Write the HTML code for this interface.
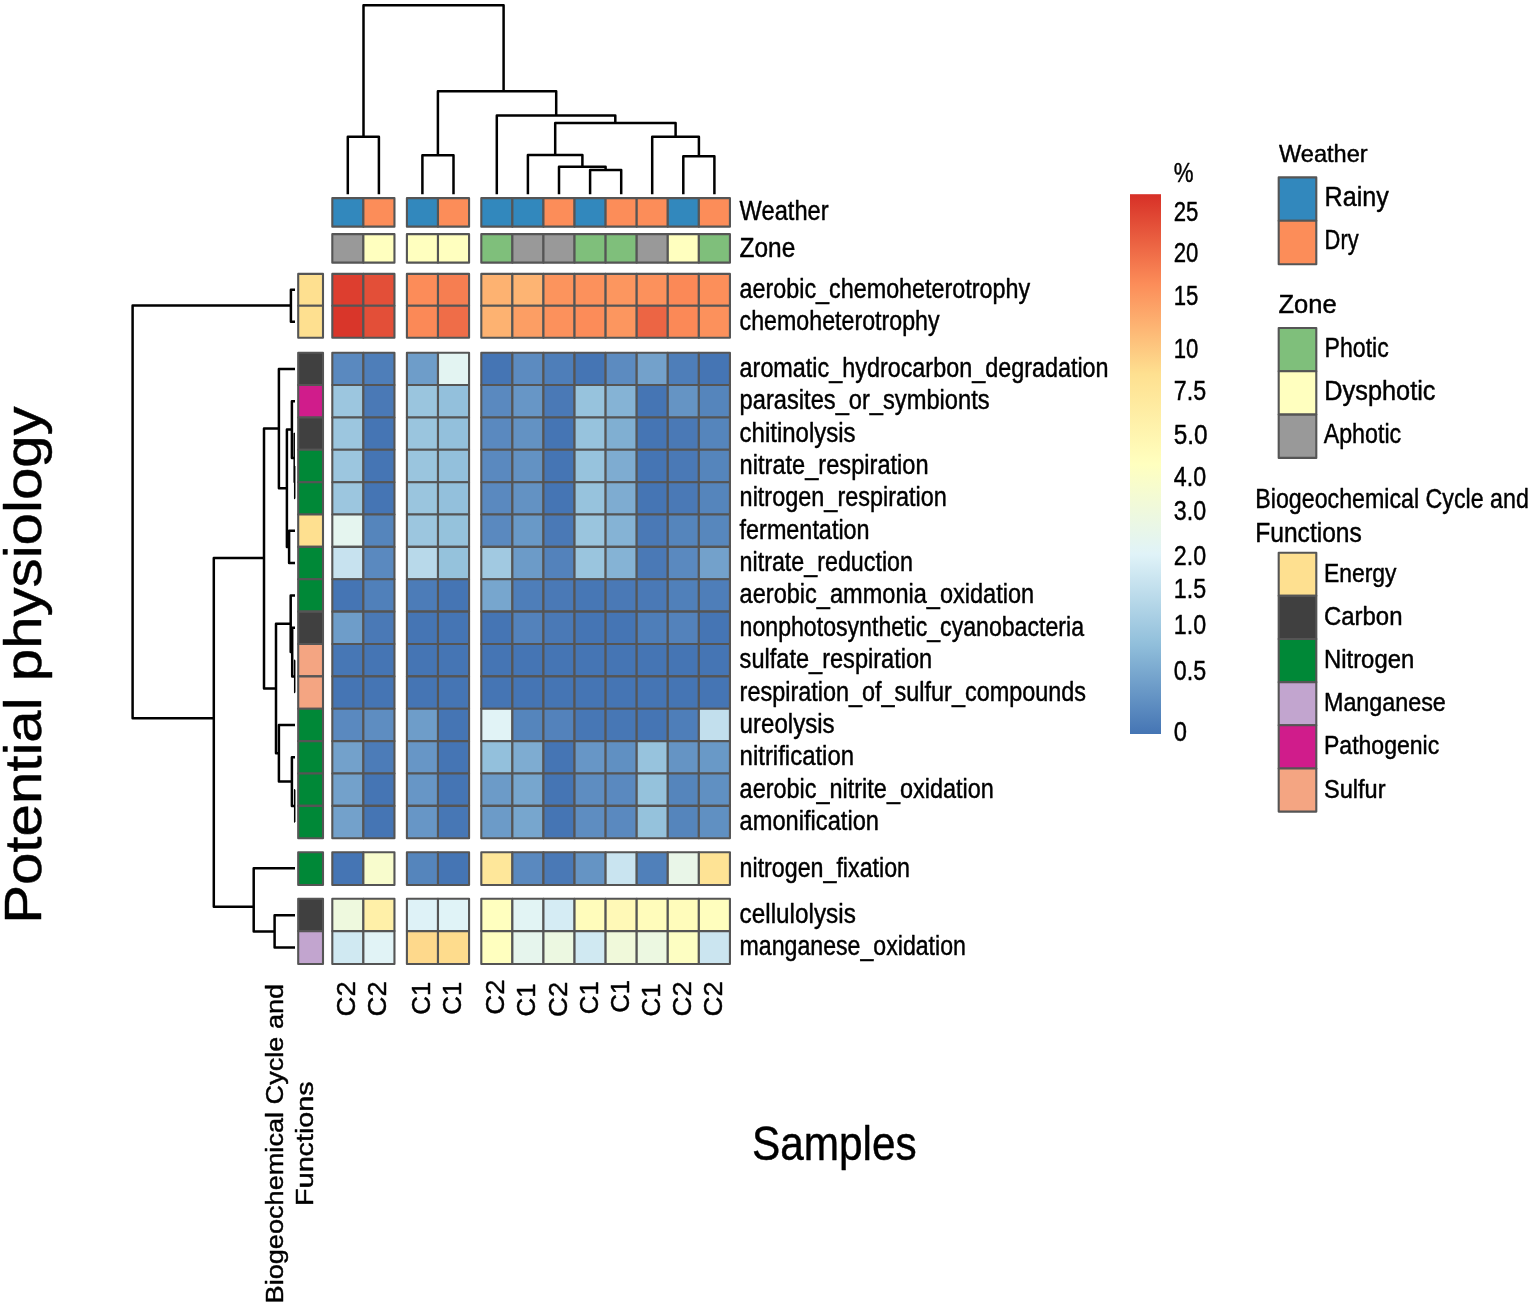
<!DOCTYPE html>
<html lang="en"><head><meta charset="utf-8"><title>Potential physiology heatmap</title>
<style>html,body{margin:0;padding:0;background:#fff}svg{display:block}</style></head>
<body>
<svg width="1535" height="1307" viewBox="0 0 1535 1307" font-family="'Liberation Sans',Arial,sans-serif">
<rect width="1535" height="1307" fill="#fff"/>
<defs><linearGradient id="cb" x1="0" y1="1" x2="0" y2="0"><stop offset="0.0000" stop-color="#4575b4"/><stop offset="0.1667" stop-color="#91bfdb"/><stop offset="0.3333" stop-color="#e0f3f8"/><stop offset="0.5000" stop-color="#ffffbf"/><stop offset="0.6667" stop-color="#fee090"/><stop offset="0.8333" stop-color="#fc8d59"/><stop offset="1.0000" stop-color="#d73027"/></linearGradient></defs>
<g stroke="#555" stroke-width="2.1" stroke-linejoin="round">
<rect x="332.30" y="273.90" width="31.08" height="31.90" fill="#dd3e2f"/>
<rect x="363.38" y="273.90" width="31.08" height="31.90" fill="#e34f38"/>
<rect x="406.90" y="273.90" width="31.08" height="31.90" fill="#fc8c59"/>
<rect x="437.98" y="273.90" width="31.08" height="31.90" fill="#f67e51"/>
<rect x="481.30" y="273.90" width="31.08" height="31.90" fill="#fdb271"/>
<rect x="512.38" y="273.90" width="31.08" height="31.90" fill="#fdb473"/>
<rect x="543.46" y="273.90" width="31.08" height="31.90" fill="#fc945d"/>
<rect x="574.54" y="273.90" width="31.08" height="31.90" fill="#fc915c"/>
<rect x="605.62" y="273.90" width="31.08" height="31.90" fill="#fc965f"/>
<rect x="636.70" y="273.90" width="31.08" height="31.90" fill="#fc915c"/>
<rect x="667.78" y="273.90" width="31.08" height="31.90" fill="#fb8957"/>
<rect x="698.86" y="273.90" width="31.08" height="31.90" fill="#fc8f5a"/>
<rect x="332.30" y="305.80" width="31.08" height="31.90" fill="#d9362a"/>
<rect x="363.38" y="305.80" width="31.08" height="31.90" fill="#e34f38"/>
<rect x="406.90" y="305.80" width="31.08" height="31.90" fill="#fb8957"/>
<rect x="437.98" y="305.80" width="31.08" height="31.90" fill="#ef6d48"/>
<rect x="481.30" y="305.80" width="31.08" height="31.90" fill="#fdb271"/>
<rect x="512.38" y="305.80" width="31.08" height="31.90" fill="#fc9e64"/>
<rect x="543.46" y="305.80" width="31.08" height="31.90" fill="#fc915c"/>
<rect x="574.54" y="305.80" width="31.08" height="31.90" fill="#fc8c59"/>
<rect x="605.62" y="305.80" width="31.08" height="31.90" fill="#fc965f"/>
<rect x="636.70" y="305.80" width="31.08" height="31.90" fill="#ec6544"/>
<rect x="667.78" y="305.80" width="31.08" height="31.90" fill="#fb8957"/>
<rect x="698.86" y="305.80" width="31.08" height="31.90" fill="#fc915c"/>
<rect x="332.30" y="352.70" width="31.08" height="32.37" fill="#5a89bf"/>
<rect x="363.38" y="352.70" width="31.08" height="32.37" fill="#4e7eb9"/>
<rect x="406.90" y="352.70" width="31.08" height="32.37" fill="#6e9dc9"/>
<rect x="437.98" y="352.70" width="31.08" height="32.37" fill="#e3f4f2"/>
<rect x="481.30" y="352.70" width="31.08" height="32.37" fill="#4575b4"/>
<rect x="512.38" y="352.70" width="31.08" height="32.37" fill="#5c8bc0"/>
<rect x="543.46" y="352.70" width="31.08" height="32.37" fill="#4e7eb9"/>
<rect x="574.54" y="352.70" width="31.08" height="32.37" fill="#4575b4"/>
<rect x="605.62" y="352.70" width="31.08" height="32.37" fill="#5c8bc0"/>
<rect x="636.70" y="352.70" width="31.08" height="32.37" fill="#73a1cb"/>
<rect x="667.78" y="352.70" width="31.08" height="32.37" fill="#4e7eb9"/>
<rect x="698.86" y="352.70" width="31.08" height="32.37" fill="#4575b4"/>
<rect x="332.30" y="385.07" width="31.08" height="32.37" fill="#9cc6df"/>
<rect x="363.38" y="385.07" width="31.08" height="32.37" fill="#4a79b6"/>
<rect x="406.90" y="385.07" width="31.08" height="32.37" fill="#9ac5de"/>
<rect x="437.98" y="385.07" width="31.08" height="32.37" fill="#93c0dc"/>
<rect x="481.30" y="385.07" width="31.08" height="32.37" fill="#5a89bf"/>
<rect x="512.38" y="385.07" width="31.08" height="32.37" fill="#6796c6"/>
<rect x="543.46" y="385.07" width="31.08" height="32.37" fill="#4a79b6"/>
<rect x="574.54" y="385.07" width="31.08" height="32.37" fill="#97c3dd"/>
<rect x="605.62" y="385.07" width="31.08" height="32.37" fill="#85b3d5"/>
<rect x="636.70" y="385.07" width="31.08" height="32.37" fill="#4575b4"/>
<rect x="667.78" y="385.07" width="31.08" height="32.37" fill="#6594c4"/>
<rect x="698.86" y="385.07" width="31.08" height="32.37" fill="#5585bc"/>
<rect x="332.30" y="417.44" width="31.08" height="32.37" fill="#9cc6df"/>
<rect x="363.38" y="417.44" width="31.08" height="32.37" fill="#4575b4"/>
<rect x="406.90" y="417.44" width="31.08" height="32.37" fill="#9ac5de"/>
<rect x="437.98" y="417.44" width="31.08" height="32.37" fill="#93c0dc"/>
<rect x="481.30" y="417.44" width="31.08" height="32.37" fill="#5a89bf"/>
<rect x="512.38" y="417.44" width="31.08" height="32.37" fill="#6392c3"/>
<rect x="543.46" y="417.44" width="31.08" height="32.37" fill="#4575b4"/>
<rect x="574.54" y="417.44" width="31.08" height="32.37" fill="#97c3dd"/>
<rect x="605.62" y="417.44" width="31.08" height="32.37" fill="#80afd2"/>
<rect x="636.70" y="417.44" width="31.08" height="32.37" fill="#4575b4"/>
<rect x="667.78" y="417.44" width="31.08" height="32.37" fill="#4a79b6"/>
<rect x="698.86" y="417.44" width="31.08" height="32.37" fill="#5585bc"/>
<rect x="332.30" y="449.81" width="31.08" height="32.37" fill="#9cc6df"/>
<rect x="363.38" y="449.81" width="31.08" height="32.37" fill="#4575b4"/>
<rect x="406.90" y="449.81" width="31.08" height="32.37" fill="#9ac5de"/>
<rect x="437.98" y="449.81" width="31.08" height="32.37" fill="#93c0dc"/>
<rect x="481.30" y="449.81" width="31.08" height="32.37" fill="#5a89bf"/>
<rect x="512.38" y="449.81" width="31.08" height="32.37" fill="#6392c3"/>
<rect x="543.46" y="449.81" width="31.08" height="32.37" fill="#4575b4"/>
<rect x="574.54" y="449.81" width="31.08" height="32.37" fill="#97c3dd"/>
<rect x="605.62" y="449.81" width="31.08" height="32.37" fill="#7eacd1"/>
<rect x="636.70" y="449.81" width="31.08" height="32.37" fill="#4575b4"/>
<rect x="667.78" y="449.81" width="31.08" height="32.37" fill="#4a79b6"/>
<rect x="698.86" y="449.81" width="31.08" height="32.37" fill="#5585bc"/>
<rect x="332.30" y="482.18" width="31.08" height="32.37" fill="#9cc6df"/>
<rect x="363.38" y="482.18" width="31.08" height="32.37" fill="#4575b4"/>
<rect x="406.90" y="482.18" width="31.08" height="32.37" fill="#9ac5de"/>
<rect x="437.98" y="482.18" width="31.08" height="32.37" fill="#93c0dc"/>
<rect x="481.30" y="482.18" width="31.08" height="32.37" fill="#5a89bf"/>
<rect x="512.38" y="482.18" width="31.08" height="32.37" fill="#6392c3"/>
<rect x="543.46" y="482.18" width="31.08" height="32.37" fill="#4575b4"/>
<rect x="574.54" y="482.18" width="31.08" height="32.37" fill="#97c3dd"/>
<rect x="605.62" y="482.18" width="31.08" height="32.37" fill="#7eacd1"/>
<rect x="636.70" y="482.18" width="31.08" height="32.37" fill="#4575b4"/>
<rect x="667.78" y="482.18" width="31.08" height="32.37" fill="#4a79b6"/>
<rect x="698.86" y="482.18" width="31.08" height="32.37" fill="#5585bc"/>
<rect x="332.30" y="514.55" width="31.08" height="32.37" fill="#e5f5ef"/>
<rect x="363.38" y="514.55" width="31.08" height="32.37" fill="#5585bc"/>
<rect x="406.90" y="514.55" width="31.08" height="32.37" fill="#9cc6df"/>
<rect x="437.98" y="514.55" width="31.08" height="32.37" fill="#95c2dc"/>
<rect x="481.30" y="514.55" width="31.08" height="32.37" fill="#5a89bf"/>
<rect x="512.38" y="514.55" width="31.08" height="32.37" fill="#6999c7"/>
<rect x="543.46" y="514.55" width="31.08" height="32.37" fill="#4a79b6"/>
<rect x="574.54" y="514.55" width="31.08" height="32.37" fill="#9ac5de"/>
<rect x="605.62" y="514.55" width="31.08" height="32.37" fill="#85b3d5"/>
<rect x="636.70" y="514.55" width="31.08" height="32.37" fill="#4a79b6"/>
<rect x="667.78" y="514.55" width="31.08" height="32.37" fill="#5585bc"/>
<rect x="698.86" y="514.55" width="31.08" height="32.37" fill="#5787bd"/>
<rect x="332.30" y="546.92" width="31.08" height="32.37" fill="#c7e2ef"/>
<rect x="363.38" y="546.92" width="31.08" height="32.37" fill="#5a89bf"/>
<rect x="406.90" y="546.92" width="31.08" height="32.37" fill="#b8d9ea"/>
<rect x="437.98" y="546.92" width="31.08" height="32.37" fill="#95c2dc"/>
<rect x="481.30" y="546.92" width="31.08" height="32.37" fill="#a1c9e1"/>
<rect x="512.38" y="546.92" width="31.08" height="32.37" fill="#6c9bc8"/>
<rect x="543.46" y="546.92" width="31.08" height="32.37" fill="#5382bb"/>
<rect x="574.54" y="546.92" width="31.08" height="32.37" fill="#9ac5de"/>
<rect x="605.62" y="546.92" width="31.08" height="32.37" fill="#85b3d5"/>
<rect x="636.70" y="546.92" width="31.08" height="32.37" fill="#4a79b6"/>
<rect x="667.78" y="546.92" width="31.08" height="32.37" fill="#5a89bf"/>
<rect x="698.86" y="546.92" width="31.08" height="32.37" fill="#73a1cb"/>
<rect x="332.30" y="579.29" width="31.08" height="32.37" fill="#4575b4"/>
<rect x="363.38" y="579.29" width="31.08" height="32.37" fill="#5080ba"/>
<rect x="406.90" y="579.29" width="31.08" height="32.37" fill="#4c7cb8"/>
<rect x="437.98" y="579.29" width="31.08" height="32.37" fill="#4575b4"/>
<rect x="481.30" y="579.29" width="31.08" height="32.37" fill="#77a6ce"/>
<rect x="512.38" y="579.29" width="31.08" height="32.37" fill="#4e7eb9"/>
<rect x="543.46" y="579.29" width="31.08" height="32.37" fill="#4a79b6"/>
<rect x="574.54" y="579.29" width="31.08" height="32.37" fill="#4777b5"/>
<rect x="605.62" y="579.29" width="31.08" height="32.37" fill="#4a79b6"/>
<rect x="636.70" y="579.29" width="31.08" height="32.37" fill="#4a79b6"/>
<rect x="667.78" y="579.29" width="31.08" height="32.37" fill="#5080ba"/>
<rect x="698.86" y="579.29" width="31.08" height="32.37" fill="#4e7eb9"/>
<rect x="332.30" y="611.66" width="31.08" height="32.37" fill="#6e9dc9"/>
<rect x="363.38" y="611.66" width="31.08" height="32.37" fill="#4a79b6"/>
<rect x="406.90" y="611.66" width="31.08" height="32.37" fill="#4575b4"/>
<rect x="437.98" y="611.66" width="31.08" height="32.37" fill="#4575b4"/>
<rect x="481.30" y="611.66" width="31.08" height="32.37" fill="#4575b4"/>
<rect x="512.38" y="611.66" width="31.08" height="32.37" fill="#5382bb"/>
<rect x="543.46" y="611.66" width="31.08" height="32.37" fill="#4a79b6"/>
<rect x="574.54" y="611.66" width="31.08" height="32.37" fill="#4575b4"/>
<rect x="605.62" y="611.66" width="31.08" height="32.37" fill="#4575b4"/>
<rect x="636.70" y="611.66" width="31.08" height="32.37" fill="#4e7eb9"/>
<rect x="667.78" y="611.66" width="31.08" height="32.37" fill="#5382bb"/>
<rect x="698.86" y="611.66" width="31.08" height="32.37" fill="#4575b4"/>
<rect x="332.30" y="644.03" width="31.08" height="32.37" fill="#4777b5"/>
<rect x="363.38" y="644.03" width="31.08" height="32.37" fill="#4575b4"/>
<rect x="406.90" y="644.03" width="31.08" height="32.37" fill="#4575b4"/>
<rect x="437.98" y="644.03" width="31.08" height="32.37" fill="#4575b4"/>
<rect x="481.30" y="644.03" width="31.08" height="32.37" fill="#4575b4"/>
<rect x="512.38" y="644.03" width="31.08" height="32.37" fill="#4575b4"/>
<rect x="543.46" y="644.03" width="31.08" height="32.37" fill="#4575b4"/>
<rect x="574.54" y="644.03" width="31.08" height="32.37" fill="#4575b4"/>
<rect x="605.62" y="644.03" width="31.08" height="32.37" fill="#4575b4"/>
<rect x="636.70" y="644.03" width="31.08" height="32.37" fill="#4575b4"/>
<rect x="667.78" y="644.03" width="31.08" height="32.37" fill="#4575b4"/>
<rect x="698.86" y="644.03" width="31.08" height="32.37" fill="#4575b4"/>
<rect x="332.30" y="676.40" width="31.08" height="32.37" fill="#4575b4"/>
<rect x="363.38" y="676.40" width="31.08" height="32.37" fill="#4575b4"/>
<rect x="406.90" y="676.40" width="31.08" height="32.37" fill="#4575b4"/>
<rect x="437.98" y="676.40" width="31.08" height="32.37" fill="#4575b4"/>
<rect x="481.30" y="676.40" width="31.08" height="32.37" fill="#4575b4"/>
<rect x="512.38" y="676.40" width="31.08" height="32.37" fill="#4575b4"/>
<rect x="543.46" y="676.40" width="31.08" height="32.37" fill="#4575b4"/>
<rect x="574.54" y="676.40" width="31.08" height="32.37" fill="#4575b4"/>
<rect x="605.62" y="676.40" width="31.08" height="32.37" fill="#4575b4"/>
<rect x="636.70" y="676.40" width="31.08" height="32.37" fill="#4575b4"/>
<rect x="667.78" y="676.40" width="31.08" height="32.37" fill="#4575b4"/>
<rect x="698.86" y="676.40" width="31.08" height="32.37" fill="#4575b4"/>
<rect x="332.30" y="708.77" width="31.08" height="32.37" fill="#5a89bf"/>
<rect x="363.38" y="708.77" width="31.08" height="32.37" fill="#5e8dc1"/>
<rect x="406.90" y="708.77" width="31.08" height="32.37" fill="#6e9dc9"/>
<rect x="437.98" y="708.77" width="31.08" height="32.37" fill="#4575b4"/>
<rect x="481.30" y="708.77" width="31.08" height="32.37" fill="#e1f3f6"/>
<rect x="512.38" y="708.77" width="31.08" height="32.37" fill="#5585bc"/>
<rect x="543.46" y="708.77" width="31.08" height="32.37" fill="#5382bb"/>
<rect x="574.54" y="708.77" width="31.08" height="32.37" fill="#4777b5"/>
<rect x="605.62" y="708.77" width="31.08" height="32.37" fill="#4777b5"/>
<rect x="636.70" y="708.77" width="31.08" height="32.37" fill="#4575b4"/>
<rect x="667.78" y="708.77" width="31.08" height="32.37" fill="#4e7eb9"/>
<rect x="698.86" y="708.77" width="31.08" height="32.37" fill="#c2dfed"/>
<rect x="332.30" y="741.14" width="31.08" height="32.37" fill="#73a1cb"/>
<rect x="363.38" y="741.14" width="31.08" height="32.37" fill="#4c7cb8"/>
<rect x="406.90" y="741.14" width="31.08" height="32.37" fill="#6796c6"/>
<rect x="437.98" y="741.14" width="31.08" height="32.37" fill="#4575b4"/>
<rect x="481.30" y="741.14" width="31.08" height="32.37" fill="#93c0dc"/>
<rect x="512.38" y="741.14" width="31.08" height="32.37" fill="#7eacd1"/>
<rect x="543.46" y="741.14" width="31.08" height="32.37" fill="#4575b4"/>
<rect x="574.54" y="741.14" width="31.08" height="32.37" fill="#6796c6"/>
<rect x="605.62" y="741.14" width="31.08" height="32.37" fill="#6090c2"/>
<rect x="636.70" y="741.14" width="31.08" height="32.37" fill="#97c3dd"/>
<rect x="667.78" y="741.14" width="31.08" height="32.37" fill="#6594c4"/>
<rect x="698.86" y="741.14" width="31.08" height="32.37" fill="#6999c7"/>
<rect x="332.30" y="773.51" width="31.08" height="32.37" fill="#73a1cb"/>
<rect x="363.38" y="773.51" width="31.08" height="32.37" fill="#4575b4"/>
<rect x="406.90" y="773.51" width="31.08" height="32.37" fill="#6796c6"/>
<rect x="437.98" y="773.51" width="31.08" height="32.37" fill="#4575b4"/>
<rect x="481.30" y="773.51" width="31.08" height="32.37" fill="#6c9bc8"/>
<rect x="512.38" y="773.51" width="31.08" height="32.37" fill="#77a6ce"/>
<rect x="543.46" y="773.51" width="31.08" height="32.37" fill="#4575b4"/>
<rect x="574.54" y="773.51" width="31.08" height="32.37" fill="#5e8dc1"/>
<rect x="605.62" y="773.51" width="31.08" height="32.37" fill="#5a89bf"/>
<rect x="636.70" y="773.51" width="31.08" height="32.37" fill="#95c2dc"/>
<rect x="667.78" y="773.51" width="31.08" height="32.37" fill="#5585bc"/>
<rect x="698.86" y="773.51" width="31.08" height="32.37" fill="#6090c2"/>
<rect x="332.30" y="805.88" width="31.08" height="32.37" fill="#73a1cb"/>
<rect x="363.38" y="805.88" width="31.08" height="32.37" fill="#4575b4"/>
<rect x="406.90" y="805.88" width="31.08" height="32.37" fill="#6796c6"/>
<rect x="437.98" y="805.88" width="31.08" height="32.37" fill="#4777b5"/>
<rect x="481.30" y="805.88" width="31.08" height="32.37" fill="#6c9bc8"/>
<rect x="512.38" y="805.88" width="31.08" height="32.37" fill="#77a6ce"/>
<rect x="543.46" y="805.88" width="31.08" height="32.37" fill="#4575b4"/>
<rect x="574.54" y="805.88" width="31.08" height="32.37" fill="#5e8dc1"/>
<rect x="605.62" y="805.88" width="31.08" height="32.37" fill="#5a89bf"/>
<rect x="636.70" y="805.88" width="31.08" height="32.37" fill="#95c2dc"/>
<rect x="667.78" y="805.88" width="31.08" height="32.37" fill="#5585bc"/>
<rect x="698.86" y="805.88" width="31.08" height="32.37" fill="#6090c2"/>
<rect x="332.30" y="852.20" width="31.08" height="32.85" fill="#4575b4"/>
<rect x="363.38" y="852.20" width="31.08" height="32.85" fill="#f8fccd"/>
<rect x="406.90" y="852.20" width="31.08" height="32.85" fill="#5585bc"/>
<rect x="437.98" y="852.20" width="31.08" height="32.85" fill="#4575b4"/>
<rect x="481.30" y="852.20" width="31.08" height="32.85" fill="#fee79a"/>
<rect x="512.38" y="852.20" width="31.08" height="32.85" fill="#5a89bf"/>
<rect x="543.46" y="852.20" width="31.08" height="32.85" fill="#4a79b6"/>
<rect x="574.54" y="852.20" width="31.08" height="32.85" fill="#6594c4"/>
<rect x="605.62" y="852.20" width="31.08" height="32.85" fill="#c9e4f0"/>
<rect x="636.70" y="852.20" width="31.08" height="32.85" fill="#5080ba"/>
<rect x="667.78" y="852.20" width="31.08" height="32.85" fill="#e9f6e8"/>
<rect x="698.86" y="852.20" width="31.08" height="32.85" fill="#fee395"/>
<rect x="332.30" y="898.70" width="31.08" height="32.40" fill="#eef9de"/>
<rect x="363.38" y="898.70" width="31.08" height="32.40" fill="#fff0a8"/>
<rect x="406.90" y="898.70" width="31.08" height="32.40" fill="#def2f7"/>
<rect x="437.98" y="898.70" width="31.08" height="32.40" fill="#e0f3f7"/>
<rect x="481.30" y="898.70" width="31.08" height="32.40" fill="#ffffbf"/>
<rect x="512.38" y="898.70" width="31.08" height="32.40" fill="#e2f4f4"/>
<rect x="543.46" y="898.70" width="31.08" height="32.40" fill="#d5ecf4"/>
<rect x="574.54" y="898.70" width="31.08" height="32.40" fill="#fffcbb"/>
<rect x="605.62" y="898.70" width="31.08" height="32.40" fill="#fff9b7"/>
<rect x="636.70" y="898.70" width="31.08" height="32.40" fill="#fffcbb"/>
<rect x="667.78" y="898.70" width="31.08" height="32.40" fill="#fffcbb"/>
<rect x="698.86" y="898.70" width="31.08" height="32.40" fill="#fffebe"/>
<rect x="332.30" y="931.10" width="31.08" height="32.85" fill="#d0e9f2"/>
<rect x="363.38" y="931.10" width="31.08" height="32.85" fill="#e1f3f6"/>
<rect x="406.90" y="931.10" width="31.08" height="32.85" fill="#fed98c"/>
<rect x="437.98" y="931.10" width="31.08" height="32.85" fill="#fedc8d"/>
<rect x="481.30" y="931.10" width="31.08" height="32.85" fill="#ffffbf"/>
<rect x="512.38" y="931.10" width="31.08" height="32.85" fill="#e6f5ed"/>
<rect x="543.46" y="931.10" width="31.08" height="32.85" fill="#ecf8e1"/>
<rect x="574.54" y="931.10" width="31.08" height="32.85" fill="#d0e9f2"/>
<rect x="605.62" y="931.10" width="31.08" height="32.85" fill="#f0f9da"/>
<rect x="636.70" y="931.10" width="31.08" height="32.85" fill="#ecf8e1"/>
<rect x="667.78" y="931.10" width="31.08" height="32.85" fill="#fdfec2"/>
<rect x="698.86" y="931.10" width="31.08" height="32.85" fill="#cbe5f0"/>
<rect x="332.30" y="198.15" width="31.08" height="28.50" fill="#3288BD"/>
<rect x="332.30" y="234.15" width="31.08" height="28.50" fill="#999999"/>
<rect x="363.38" y="198.15" width="31.08" height="28.50" fill="#FC8D59"/>
<rect x="363.38" y="234.15" width="31.08" height="28.50" fill="#FFFFBF"/>
<rect x="406.90" y="198.15" width="31.08" height="28.50" fill="#3288BD"/>
<rect x="406.90" y="234.15" width="31.08" height="28.50" fill="#FFFFBF"/>
<rect x="437.98" y="198.15" width="31.08" height="28.50" fill="#FC8D59"/>
<rect x="437.98" y="234.15" width="31.08" height="28.50" fill="#FFFFBF"/>
<rect x="481.30" y="198.15" width="31.08" height="28.50" fill="#3288BD"/>
<rect x="481.30" y="234.15" width="31.08" height="28.50" fill="#7FBF7B"/>
<rect x="512.38" y="198.15" width="31.08" height="28.50" fill="#3288BD"/>
<rect x="512.38" y="234.15" width="31.08" height="28.50" fill="#999999"/>
<rect x="543.46" y="198.15" width="31.08" height="28.50" fill="#FC8D59"/>
<rect x="543.46" y="234.15" width="31.08" height="28.50" fill="#999999"/>
<rect x="574.54" y="198.15" width="31.08" height="28.50" fill="#3288BD"/>
<rect x="574.54" y="234.15" width="31.08" height="28.50" fill="#7FBF7B"/>
<rect x="605.62" y="198.15" width="31.08" height="28.50" fill="#FC8D59"/>
<rect x="605.62" y="234.15" width="31.08" height="28.50" fill="#7FBF7B"/>
<rect x="636.70" y="198.15" width="31.08" height="28.50" fill="#FC8D59"/>
<rect x="636.70" y="234.15" width="31.08" height="28.50" fill="#999999"/>
<rect x="667.78" y="198.15" width="31.08" height="28.50" fill="#3288BD"/>
<rect x="667.78" y="234.15" width="31.08" height="28.50" fill="#FFFFBF"/>
<rect x="698.86" y="198.15" width="31.08" height="28.50" fill="#FC8D59"/>
<rect x="698.86" y="234.15" width="31.08" height="28.50" fill="#7FBF7B"/>
<rect x="298.20" y="273.90" width="24.80" height="31.90" fill="#FEE090"/>
<rect x="298.20" y="305.80" width="24.80" height="31.90" fill="#FEE090"/>
<rect x="298.20" y="352.70" width="24.80" height="32.37" fill="#404040"/>
<rect x="298.20" y="385.07" width="24.80" height="32.37" fill="#D01C8B"/>
<rect x="298.20" y="417.44" width="24.80" height="32.37" fill="#404040"/>
<rect x="298.20" y="449.81" width="24.80" height="32.37" fill="#008837"/>
<rect x="298.20" y="482.18" width="24.80" height="32.37" fill="#008837"/>
<rect x="298.20" y="514.55" width="24.80" height="32.37" fill="#FEE090"/>
<rect x="298.20" y="546.92" width="24.80" height="32.37" fill="#008837"/>
<rect x="298.20" y="579.29" width="24.80" height="32.37" fill="#008837"/>
<rect x="298.20" y="611.66" width="24.80" height="32.37" fill="#404040"/>
<rect x="298.20" y="644.03" width="24.80" height="32.37" fill="#F4A582"/>
<rect x="298.20" y="676.40" width="24.80" height="32.37" fill="#F4A582"/>
<rect x="298.20" y="708.77" width="24.80" height="32.37" fill="#008837"/>
<rect x="298.20" y="741.14" width="24.80" height="32.37" fill="#008837"/>
<rect x="298.20" y="773.51" width="24.80" height="32.37" fill="#008837"/>
<rect x="298.20" y="805.88" width="24.80" height="32.37" fill="#008837"/>
<rect x="298.20" y="852.20" width="24.80" height="32.85" fill="#008837"/>
<rect x="298.20" y="898.70" width="24.80" height="32.40" fill="#404040"/>
<rect x="298.20" y="931.10" width="24.80" height="32.85" fill="#C2A5CF"/>
</g>
<g fill="#000" stroke="#000" stroke-width="0.45" stroke-linejoin="round">
<text x="739.6" y="297.7" font-size="27" textLength="290.5" lengthAdjust="spacingAndGlyphs">aerobic_chemoheterotrophy</text>
<text x="739.6" y="329.6" font-size="27" textLength="200.0" lengthAdjust="spacingAndGlyphs">chemoheterotrophy</text>
<text x="739.6" y="376.8" font-size="27" textLength="369.0" lengthAdjust="spacingAndGlyphs">aromatic_hydrocarbon_degradation</text>
<text x="739.6" y="409.2" font-size="27" textLength="250.0" lengthAdjust="spacingAndGlyphs">parasites_or_symbionts</text>
<text x="739.6" y="441.5" font-size="27" textLength="116.0" lengthAdjust="spacingAndGlyphs">chitinolysis</text>
<text x="739.6" y="473.9" font-size="27" textLength="189.0" lengthAdjust="spacingAndGlyphs">nitrate_respiration</text>
<text x="739.6" y="506.3" font-size="27" textLength="207.3" lengthAdjust="spacingAndGlyphs">nitrogen_respiration</text>
<text x="739.6" y="538.6" font-size="27" textLength="130.0" lengthAdjust="spacingAndGlyphs">fermentation</text>
<text x="739.6" y="571.0" font-size="27" textLength="173.4" lengthAdjust="spacingAndGlyphs">nitrate_reduction</text>
<text x="739.6" y="603.4" font-size="27" textLength="294.6" lengthAdjust="spacingAndGlyphs">aerobic_ammonia_oxidation</text>
<text x="739.6" y="635.7" font-size="27" textLength="344.4" lengthAdjust="spacingAndGlyphs">nonphotosynthetic_cyanobacteria</text>
<text x="739.6" y="668.1" font-size="27" textLength="192.6" lengthAdjust="spacingAndGlyphs">sulfate_respiration</text>
<text x="739.6" y="700.5" font-size="27" textLength="346.5" lengthAdjust="spacingAndGlyphs">respiration_of_sulfur_compounds</text>
<text x="739.6" y="732.9" font-size="27" textLength="95.0" lengthAdjust="spacingAndGlyphs">ureolysis</text>
<text x="739.6" y="765.2" font-size="27" textLength="114.5" lengthAdjust="spacingAndGlyphs">nitrification</text>
<text x="739.6" y="797.6" font-size="27" textLength="254.2" lengthAdjust="spacingAndGlyphs">aerobic_nitrite_oxidation</text>
<text x="739.6" y="830.0" font-size="27" textLength="139.4" lengthAdjust="spacingAndGlyphs">amonification</text>
<text x="739.6" y="876.5" font-size="27" textLength="170.4" lengthAdjust="spacingAndGlyphs">nitrogen_fixation</text>
<text x="739.6" y="922.8" font-size="27" textLength="116.2" lengthAdjust="spacingAndGlyphs">cellulolysis</text>
<text x="739.6" y="955.4" font-size="27" textLength="226.3" lengthAdjust="spacingAndGlyphs">manganese_oxidation</text>
<text x="739.6" y="219.9" font-size="27" textLength="89.0" lengthAdjust="spacingAndGlyphs">Weather</text>
<text x="739.6" y="256.9" font-size="27" textLength="55.7" lengthAdjust="spacingAndGlyphs">Zone</text>
<text x="355.4" y="1016.4" font-size="25.5" textLength="35.2" lengthAdjust="spacingAndGlyphs" transform="rotate(-90 355.4 1016.4)">C2</text>
<text x="386.5" y="1016.4" font-size="25.5" textLength="35.2" lengthAdjust="spacingAndGlyphs" transform="rotate(-90 386.5 1016.4)">C2</text>
<text x="430.0" y="1014.7" font-size="25.5" textLength="33.0" lengthAdjust="spacingAndGlyphs" transform="rotate(-90 430.0 1014.7)">C1</text>
<text x="461.1" y="1014.7" font-size="25.5" textLength="33.0" lengthAdjust="spacingAndGlyphs" transform="rotate(-90 461.1 1014.7)">C1</text>
<text x="504.4" y="1014.7" font-size="25.5" textLength="35.2" lengthAdjust="spacingAndGlyphs" transform="rotate(-90 504.4 1014.7)">C2</text>
<text x="535.5" y="1016.4" font-size="25.5" textLength="33.0" lengthAdjust="spacingAndGlyphs" transform="rotate(-90 535.5 1016.4)">C1</text>
<text x="566.6" y="1016.9" font-size="25.5" textLength="35.2" lengthAdjust="spacingAndGlyphs" transform="rotate(-90 566.6 1016.9)">C2</text>
<text x="597.7" y="1014.2" font-size="25.5" textLength="33.0" lengthAdjust="spacingAndGlyphs" transform="rotate(-90 597.7 1014.2)">C1</text>
<text x="628.8" y="1012.8" font-size="25.5" textLength="33.0" lengthAdjust="spacingAndGlyphs" transform="rotate(-90 628.8 1012.8)">C1</text>
<text x="659.8" y="1016.4" font-size="25.5" textLength="33.0" lengthAdjust="spacingAndGlyphs" transform="rotate(-90 659.8 1016.4)">C1</text>
<text x="690.9" y="1016.4" font-size="25.5" textLength="35.2" lengthAdjust="spacingAndGlyphs" transform="rotate(-90 690.9 1016.4)">C2</text>
<text x="722.0" y="1016.4" font-size="25.5" textLength="35.2" lengthAdjust="spacingAndGlyphs" transform="rotate(-90 722.0 1016.4)">C2</text>
<text x="282.6" y="1303.4" font-size="24.6" textLength="319.6" lengthAdjust="spacingAndGlyphs" transform="rotate(-90 282.6 1303.4)">Biogeochemical Cycle and</text>
<text x="313.3" y="1205.9" font-size="24.6" textLength="124.6" lengthAdjust="spacingAndGlyphs" transform="rotate(-90 313.3 1205.9)">Functions</text>
<text x="752.0" y="1160.3" font-size="48" textLength="164.7" lengthAdjust="spacingAndGlyphs">Samples</text>
<text x="40.8" y="923.8" font-size="51.5" textLength="517.5" lengthAdjust="spacingAndGlyphs" transform="rotate(-90 40.8 923.8)">Potential physiology</text>
<text x="1173.8" y="181.8" font-size="27" textLength="19.8" lengthAdjust="spacingAndGlyphs">%</text>
<text x="1173.8" y="221.3" font-size="27" textLength="24.6" lengthAdjust="spacingAndGlyphs">25</text>
<text x="1173.8" y="262.2" font-size="27" textLength="24.6" lengthAdjust="spacingAndGlyphs">20</text>
<text x="1173.8" y="305.3" font-size="27" textLength="24.6" lengthAdjust="spacingAndGlyphs">15</text>
<text x="1173.8" y="358.2" font-size="27" textLength="24.6" lengthAdjust="spacingAndGlyphs">10</text>
<text x="1173.8" y="399.5" font-size="27" textLength="32.3" lengthAdjust="spacingAndGlyphs">7.5</text>
<text x="1173.8" y="444.3" font-size="27" textLength="33.8" lengthAdjust="spacingAndGlyphs">5.0</text>
<text x="1173.8" y="485.6" font-size="27" textLength="32.3" lengthAdjust="spacingAndGlyphs">4.0</text>
<text x="1173.8" y="520.2" font-size="27" textLength="32.3" lengthAdjust="spacingAndGlyphs">3.0</text>
<text x="1173.8" y="565.4" font-size="27" textLength="32.3" lengthAdjust="spacingAndGlyphs">2.0</text>
<text x="1173.8" y="598.4" font-size="27" textLength="32.3" lengthAdjust="spacingAndGlyphs">1.5</text>
<text x="1173.8" y="633.8" font-size="27" textLength="32.3" lengthAdjust="spacingAndGlyphs">1.0</text>
<text x="1173.8" y="679.6" font-size="27" textLength="32.3" lengthAdjust="spacingAndGlyphs">0.5</text>
<text x="1173.8" y="741.1" font-size="27" textLength="13.2" lengthAdjust="spacingAndGlyphs">0</text>
<text x="1279.0" y="162.3" font-size="24.6" textLength="88.7" lengthAdjust="spacingAndGlyphs">Weather</text>
<text x="1324.6" y="205.9" font-size="27" textLength="64.2" lengthAdjust="spacingAndGlyphs">Rainy</text>
<text x="1324.6" y="248.6" font-size="27" textLength="34.0" lengthAdjust="spacingAndGlyphs">Dry</text>
<text x="1278.5" y="313.1" font-size="25.3" textLength="58.2" lengthAdjust="spacingAndGlyphs">Zone</text>
<text x="1324.6" y="356.6" font-size="27" textLength="64.2" lengthAdjust="spacingAndGlyphs">Photic</text>
<text x="1324.3" y="399.5" font-size="27" textLength="111.2" lengthAdjust="spacingAndGlyphs">Dysphotic</text>
<text x="1323.7" y="443.0" font-size="27" textLength="77.5" lengthAdjust="spacingAndGlyphs">Aphotic</text>
<text x="1255.3" y="508.0" font-size="28" textLength="273.5" lengthAdjust="spacingAndGlyphs">Biogeochemical Cycle and</text>
<text x="1255.3" y="542.0" font-size="27" textLength="106.5" lengthAdjust="spacingAndGlyphs">Functions</text>
<text x="1324.0" y="581.9" font-size="25" textLength="72.5" lengthAdjust="spacingAndGlyphs">Energy</text>
<text x="1324.0" y="624.6" font-size="25" textLength="78.5" lengthAdjust="spacingAndGlyphs">Carbon</text>
<text x="1324.0" y="667.9" font-size="25" textLength="90.2" lengthAdjust="spacingAndGlyphs">Nitrogen</text>
<text x="1324.0" y="711.0" font-size="25" textLength="121.8" lengthAdjust="spacingAndGlyphs">Manganese</text>
<text x="1324.0" y="754.4" font-size="25" textLength="115.2" lengthAdjust="spacingAndGlyphs">Pathogenic</text>
<text x="1324.0" y="797.6" font-size="25" textLength="61.5" lengthAdjust="spacingAndGlyphs">Sulfur</text>
</g>
<rect x="1130.00" y="194.20" width="31.00" height="539.80" fill="url(#cb)"/>
<g stroke="#555" stroke-width="2.1" stroke-linejoin="round">
<rect x="1278.70" y="177.40" width="37.60" height="43.40" fill="#3288BD"/>
<rect x="1278.70" y="220.80" width="37.60" height="43.40" fill="#FC8D59"/>
<rect x="1278.70" y="328.00" width="37.60" height="43.30" fill="#7FBF7B"/>
<rect x="1278.70" y="371.30" width="37.60" height="43.30" fill="#FFFFBF"/>
<rect x="1278.70" y="414.60" width="37.60" height="43.30" fill="#999999"/>
<rect x="1278.70" y="552.70" width="37.60" height="43.15" fill="#FEE090"/>
<rect x="1278.70" y="595.85" width="37.60" height="43.15" fill="#404040"/>
<rect x="1278.70" y="639.00" width="37.60" height="43.15" fill="#008837"/>
<rect x="1278.70" y="682.15" width="37.60" height="43.15" fill="#C2A5CF"/>
<rect x="1278.70" y="725.30" width="37.60" height="43.15" fill="#D01C8B"/>
<rect x="1278.70" y="768.45" width="37.60" height="43.15" fill="#F4A582"/>
</g>
<path d="M347.8 194.2 L347.8 136.7 L378.9 136.7 L378.9 194.2" fill="none" stroke="#000" stroke-width="2.5" stroke-linejoin="round"/>
<path d="M422.4 194.2 L422.4 155.2 L453.5 155.2 L453.5 194.2" fill="none" stroke="#000" stroke-width="2.5" stroke-linejoin="round"/>
<path d="M590.1 194.2 L590.1 170.1 L621.2 170.1 L621.2 194.2" fill="none" stroke="#000" stroke-width="2.5" stroke-linejoin="round"/>
<path d="M559.0 194.2 L559.0 166.7 L605.6 166.7 L605.6 170.1" fill="none" stroke="#000" stroke-width="2.5" stroke-linejoin="round"/>
<path d="M527.9 194.2 L527.9 154.9 L582.4 154.9 L582.4 166.7" fill="none" stroke="#000" stroke-width="2.5" stroke-linejoin="round"/>
<path d="M683.3 194.2 L683.3 156.3 L714.4 156.3 L714.4 194.2" fill="none" stroke="#000" stroke-width="2.5" stroke-linejoin="round"/>
<path d="M652.2 194.2 L652.2 136.8 L698.9 136.8 L698.9 156.3" fill="none" stroke="#000" stroke-width="2.5" stroke-linejoin="round"/>
<path d="M555.2 154.9 L555.2 123.1 L675.6 123.1 L675.6 136.8" fill="none" stroke="#000" stroke-width="2.5" stroke-linejoin="round"/>
<path d="M496.8 194.2 L496.8 115.4 L615.3 115.4 L615.3 123.1" fill="none" stroke="#000" stroke-width="2.5" stroke-linejoin="round"/>
<path d="M437.9 155.2 L437.9 91.3 L556.2 91.3 L556.2 115.4" fill="none" stroke="#000" stroke-width="2.5" stroke-linejoin="round"/>
<path d="M363.5 136.7 L363.5 5.3 L503.6 5.3 L503.6 91.3" fill="none" stroke="#000" stroke-width="2.5" stroke-linejoin="round"/>
<path d="M295.0 289.8 L290.9 289.8 L290.9 321.7 L295.0 321.7" fill="none" stroke="#000" stroke-width="2.5" stroke-linejoin="round"/>
<path d="M295.0 466.0 L294.7 466.0 L294.7 498.4 L295.0 498.4" fill="none" stroke="#000" stroke-width="1.5" stroke-linejoin="round"/>
<path d="M295.0 433.6 L294.2 433.6 L294.2 482.2 L294.7 482.2" fill="none" stroke="#000" stroke-width="1.5" stroke-linejoin="round"/>
<path d="M295.0 401.3 L291.9 401.3 L291.9 457.9 L294.2 457.9" fill="none" stroke="#000" stroke-width="2.5" stroke-linejoin="round"/>
<path d="M295.0 530.7 L289.1 530.7 L289.1 563.1 L295.0 563.1" fill="none" stroke="#000" stroke-width="2.5" stroke-linejoin="round"/>
<path d="M291.9 429.6 L286.9 429.6 L286.9 546.9 L289.1 546.9" fill="none" stroke="#000" stroke-width="2.5" stroke-linejoin="round"/>
<path d="M295.0 368.9 L278.9 368.9 L278.9 488.2 L286.9 488.2" fill="none" stroke="#000" stroke-width="2.5" stroke-linejoin="round"/>
<path d="M295.0 660.2 L294.7 660.2 L294.7 692.6 L295.0 692.6" fill="none" stroke="#000" stroke-width="1.5" stroke-linejoin="round"/>
<path d="M295.0 627.8 L292.2 627.8 L292.2 676.4 L294.7 676.4" fill="none" stroke="#000" stroke-width="2.5" stroke-linejoin="round"/>
<path d="M295.0 595.5 L290.7 595.5 L290.7 652.1 L292.2 652.1" fill="none" stroke="#000" stroke-width="2.5" stroke-linejoin="round"/>
<path d="M295.0 789.7 L294.7 789.7 L294.7 822.1 L295.0 822.1" fill="none" stroke="#000" stroke-width="1.5" stroke-linejoin="round"/>
<path d="M295.0 757.3 L291.9 757.3 L291.9 805.9 L294.7 805.9" fill="none" stroke="#000" stroke-width="2.5" stroke-linejoin="round"/>
<path d="M295.0 725.0 L278.9 725.0 L278.9 781.6 L291.9 781.6" fill="none" stroke="#000" stroke-width="2.5" stroke-linejoin="round"/>
<path d="M290.7 623.8 L276.0 623.8 L276.0 753.3 L278.9 753.3" fill="none" stroke="#000" stroke-width="2.5" stroke-linejoin="round"/>
<path d="M278.9 428.6 L264.0 428.6 L264.0 688.5 L276.0 688.5" fill="none" stroke="#000" stroke-width="2.5" stroke-linejoin="round"/>
<path d="M295.0 915.3 L274.6 915.3 L274.6 947.5 L295.0 947.5" fill="none" stroke="#000" stroke-width="2.5" stroke-linejoin="round"/>
<path d="M295.0 868.3 L253.7 868.3 L253.7 931.4 L274.6 931.4" fill="none" stroke="#000" stroke-width="2.5" stroke-linejoin="round"/>
<path d="M264.0 558.1 L213.8 558.1 L213.8 906.8 L253.7 906.8" fill="none" stroke="#000" stroke-width="2.5" stroke-linejoin="round"/>
<path d="M290.9 305.6 L132.6 305.6 L132.6 718.2 L213.8 718.2" fill="none" stroke="#000" stroke-width="2.5" stroke-linejoin="round"/>
</svg>
</body></html>
